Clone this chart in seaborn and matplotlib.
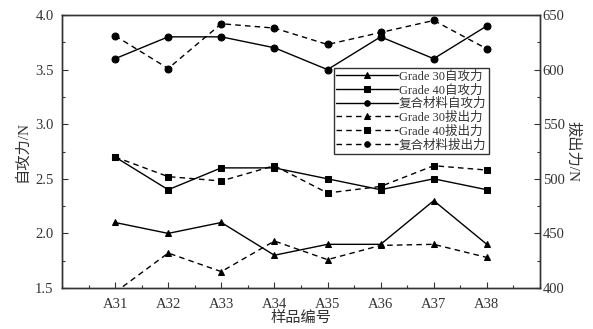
import matplotlib
matplotlib.use("Agg")
import matplotlib.pyplot as plt
import seaborn as sns
import numpy as np
from matplotlib.ticker import MultipleLocator

sns.set_theme(style="ticks")
plt.rcParams['font.family'] = ['Liberation Serif', 'Noto Sans CJK SC', 'DejaVu Sans']
plt.rcParams['axes.unicode_minus'] = False

categories = ["A31", "A32", "A33", "A34", "A35", "A36", "A37", "A38"]
g30_self = [2.1, 2.0, 2.1, 1.8, 1.9, 1.9, 2.3, 1.9]
g40_self = [2.7, 2.4, 2.6, 2.6, 2.5, 2.4, 2.5, 2.4]
comp_self = [3.6, 3.8, 3.8, 3.7, 3.5, 3.8, 3.6, 3.9]
g30_pull = [396, 432, 415, 443, 426, 439, 440, 428]
g40_pull = [520, 502, 498, 512, 487, 493, 512, 508]
comp_pull = [631, 601, 642, 638, 623, 634, 645, 619]

labels_self = ["Grade 30自攻力", "Grade 40自攻力", "复合材料自攻力"]
labels_pull = ["Grade 30拔出力", "Grade 40拔出力", "复合材料拔出力"]
markers = ["^", "s", "o"]

fig = plt.figure(figsize=(5.93, 3.29), dpi=100)
ax = fig.add_axes([0.1045, 0.1246, 0.806, 0.8298])
ax2 = ax.twinx()

lw = 1.0
ms = 5.0
for vals, lab, mk in zip([g30_self, g40_self, comp_self], labels_self, markers):
    sns.lineplot(x=categories, y=vals, ax=ax, color="black", marker=mk,
                 markersize=ms, markeredgecolor="black", linewidth=lw,
                 linestyle="-", label=lab, sort=False)
for vals, lab, mk in zip([g30_pull, g40_pull, comp_pull], labels_pull, markers):
    sns.lineplot(x=categories, y=vals, ax=ax2, color="black", marker=mk,
                 markersize=ms, markeredgecolor="black", linewidth=lw,
                 linestyle=(0, (4, 3)), label=lab, sort=False)

h1, l1 = ax.get_legend_handles_labels()
h2, l2 = ax2.get_legend_handles_labels()
if ax.get_legend():
    ax.get_legend().remove()
if ax2.get_legend():
    ax2.get_legend().remove()

ax.set_xlim(-1, 8)
ax.set_ylim(1.5, 4.0)
ax2.set_ylim(400, 650)

ax.yaxis.set_major_locator(MultipleLocator(0.5))
ax.yaxis.set_minor_locator(MultipleLocator(0.25))
ax2.yaxis.set_major_locator(MultipleLocator(50))
ax2.yaxis.set_minor_locator(MultipleLocator(25))
ax.xaxis.set_minor_locator(MultipleLocator(0.5))
ax.set_yticklabels([f"{v:.1f}" for v in ax.get_yticks()])

for a in (ax, ax2):
    for s in a.spines.values():
        s.set_color("#333333")
        s.set_linewidth(1.0)
ax.tick_params(axis="both", which="both", direction="in", colors="#333333",
               labelcolor="#333333", labelsize=10.5, top=False, right=False)
ax.tick_params(which="major", length=4, width=0.8)
ax.tick_params(which="minor", length=2.5, width=0.8)
ax.tick_params(axis="x", which="major", pad=7)
ax.tick_params(axis="y", which="major", pad=6)
ax2.tick_params(axis="y", which="both", direction="in", colors="#333333",
                labelcolor="#333333", labelsize=10.5)
ax2.tick_params(which="major", length=4, width=0.8, pad=2)
ax2.tick_params(which="minor", length=2.5, width=0.8)

ax.set_xlabel("样品编号", fontsize=11, color="#333333", labelpad=0)
ax.set_ylabel("自攻力/N", fontsize=11, color="#333333", labelpad=4)
ax2.set_ylabel("拔出力/N", fontsize=11, color="#333333", rotation=270, labelpad=11)

leg = ax2.legend(h1 + h2, l1 + l2, loc="upper right", bbox_to_anchor=(0.893, 0.806),
                 fontsize=9, frameon=True, fancybox=False, edgecolor="#333333",
                 framealpha=1, handlelength=4.9, handletextpad=0.1,
                 labelspacing=0.12, borderpad=0.2, borderaxespad=0,
                 markerscale=0.8)
leg.get_frame().set_linewidth(1.0)
for t in leg.get_texts():
    t.set_color("#333333")

fig.savefig("out.png", dpi=100)
